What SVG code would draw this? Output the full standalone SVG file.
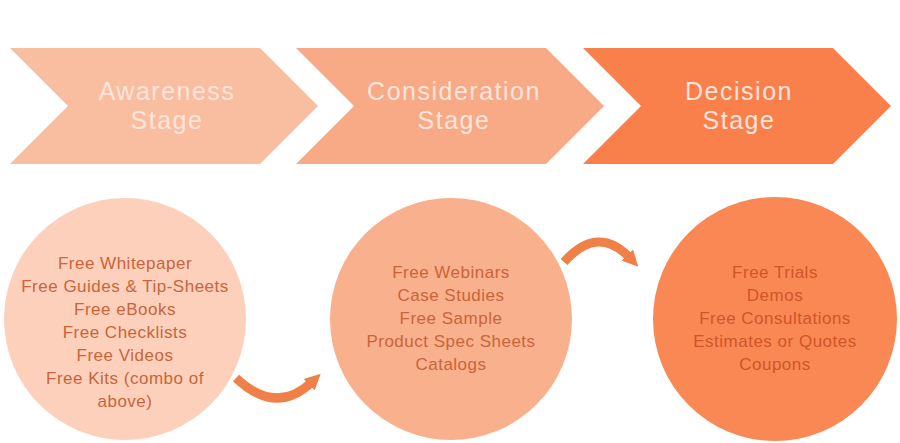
<svg xmlns="http://www.w3.org/2000/svg" width="900" height="443" viewBox="0 0 900 443">
<defs>
<style>
.stage{font-family:"Liberation Sans",Arial,sans-serif;font-size:25px;letter-spacing:1.5px;fill:#FCE4DA;text-anchor:middle}
.item{font-family:"Liberation Sans",Arial,sans-serif;font-size:17px;letter-spacing:0.5px;fill:#C9653A;text-anchor:middle}
.item3{fill:#D0552A}
.conn{fill:none;stroke:#EE8048;stroke-width:9}
</style>
<marker id="ah" markerUnits="userSpaceOnUse" markerWidth="20" markerHeight="20" refX="4" refY="10" orient="auto">
<path d="M0,2 L16,10 L0,18 Z" fill="#EE8048"/>
</marker>
</defs>
<rect width="900" height="443" fill="#FFFFFF"/>
<g id="awareness">
<polygon points="10,48 260,48 318,106 260,164 10,164 68,106" fill="#F9BEA0"/>
<text class="stage" x="167" y="100">Awareness</text>
<text class="stage" x="167" y="129">Stage</text>
</g>
<g id="consideration">
<polygon points="296,48 546,48 604,106 546,164 296,164 354,106" fill="#F7AA85"/>
<text class="stage" x="454" y="100">Consideration</text>
<text class="stage" x="454" y="129">Stage</text>
</g>
<g id="decision">
<polygon points="583,48 833,48 891,106 833,164 583,164 641,106" fill="#FA804B"/>
<text class="stage" x="739" y="100">Decision</text>
<text class="stage" x="739" y="129">Stage</text>
</g>
<g id="awareness-offers">
<circle cx="125" cy="319" r="121" fill="#FDD0BC"/>
<text class="item" x="125" y="269">Free Whitepaper</text>
<text class="item" x="125" y="292">Free Guides &amp; Tip-Sheets</text>
<text class="item" x="125" y="315">Free eBooks</text>
<text class="item" x="125" y="338">Free Checklists</text>
<text class="item" x="125" y="361">Free Videos</text>
<text class="item" x="125" y="384">Free Kits (combo of</text>
<text class="item" x="125" y="407">above)</text>
</g>
<g id="consideration-offers">
<circle cx="451" cy="319" r="121" fill="#F9B08D"/>
<text class="item" x="451" y="278">Free Webinars</text>
<text class="item" x="451" y="301">Case Studies</text>
<text class="item" x="451" y="324">Free Sample</text>
<text class="item" x="451" y="347">Product Spec Sheets</text>
<text class="item" x="451" y="370">Catalogs</text>
</g>
<g id="decision-offers">
<circle cx="775" cy="319" r="122" fill="#FA8854"/>
<text class="item item3" x="775" y="278">Free Trials</text>
<text class="item item3" x="775" y="301">Demos</text>
<text class="item item3" x="775" y="324">Free Consultations</text>
<text class="item item3" x="775" y="347">Estimates or Quotes</text>
<text class="item item3" x="775" y="370">Coupons</text>
</g>
<g id="connectors">
<path class="conn" d="M236,378 Q276,416 312,382" marker-end="url(#ah)"/>
<path class="conn" d="M564,262 Q598,224 630,258" marker-end="url(#ah)"/>
</g>
</svg>
